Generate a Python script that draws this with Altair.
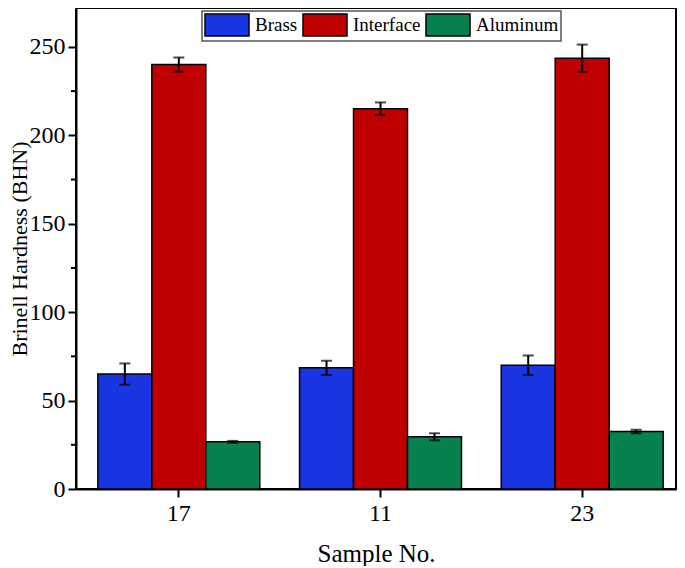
import altair as alt
import pandas as pd

samples = ["17", "11", "23"]
materials = ["Brass", "Interface", "Aluminum"]
brass = [65, 68.5, 70]
brass_err = [6, 4, 5.5]
interface = [240, 215, 243.6]
interface_err = [4, 3.6, 7.7]
aluminum = [26.7, 29.5, 32.5]
aluminum_err = [0.5, 2, 1]
colors = ["#1a36e3", "#c00000", "#07824f"]
major_ticks = [0, 50, 100, 150, 200, 250]
minor_ticks = [25, 75, 125, 175, 225]

rows = []
for mat, vals, errs in [("Brass", brass, brass_err), ("Interface", interface, interface_err),
                        ("Aluminum", aluminum, aluminum_err)]:
    for s, v, e in zip(samples, vals, errs):
        rows.append({"Sample": s, "Material": mat, "Value": v, "Low": v - e, "High": v + e})
df = pd.DataFrame(rows)
minor_df = pd.DataFrame({"m": minor_ticks})

FONT = "Liberation Serif"

x_scale = alt.Scale(paddingInner=0.197, paddingOuter=0.086, align=0.63)
x_enc = alt.X("Sample:N", sort=samples, scale=x_scale,
              axis=alt.Axis(title="Sample No.", labelAngle=0, labelFontSize=24, titleFontSize=25,
                            labelPadding=4, titlePadding=16, tickSize=8))
xo_enc = alt.XOffset("Material:N", sort=materials, scale=alt.Scale(paddingInner=0, paddingOuter=0))
y_scale = alt.Scale(domain=[0, 272], nice=False, zero=True)

bars = alt.Chart(df).mark_bar(stroke="black", strokeWidth=1.5).encode(
    x=x_enc,
    xOffset=xo_enc,
    y=alt.Y("Value:Q", scale=y_scale,
            axis=alt.Axis(title="Brinell Hardness (BHN)", values=major_ticks, labelFontSize=24,
                          titleFontSize=22, labelPadding=3, titlePadding=-2, tickSize=8)),
    color=alt.Color("Material:N", sort=materials,
                    scale=alt.Scale(domain=materials, range=colors),
                    legend=alt.Legend(title=None, orient="none", direction="horizontal",
                                      legendX=126, legendY=3, labelFontSize=19, labelFont=FONT,
                                      symbolType="M-1,-1H3V1H-1Z", symbolSize=484,
                                      symbolStrokeColor="black", symbolStrokeWidth=1.5,
                                      symbolOpacity=1, labelOffset=27, columnPadding=2,
                                      padding=2, strokeColor="#555",
                                      fillColor="white", labelColor="black")),
)

err = alt.Chart(df).mark_rule(color="black", strokeWidth=2).encode(
    x=alt.X("Sample:N", sort=samples), xOffset=alt.XOffset("Material:N", sort=materials),
    y=alt.Y("Low:Q", scale=y_scale), y2="High:Q")

cap_hi = alt.Chart(df).mark_tick(color="black", orient="horizontal", size=11, thickness=2).encode(
    x=alt.X("Sample:N", sort=samples), xOffset=alt.XOffset("Material:N", sort=materials),
    y=alt.Y("High:Q", scale=y_scale))
cap_lo = alt.Chart(df).mark_tick(color="black", orient="horizontal", size=11, thickness=2).encode(
    x=alt.X("Sample:N", sort=samples), xOffset=alt.XOffset("Material:N", sort=materials),
    y=alt.Y("Low:Q", scale=y_scale))

minor = alt.Chart(minor_df).mark_rule(color="black", strokeWidth=2).encode(
    x=alt.value(-5), x2=alt.value(0), y=alt.Y("m:Q", scale=y_scale))

chart = alt.layer(bars, err, cap_hi, cap_lo, minor).properties(
    width=600, height=481,
    autosize=alt.AutoSizeParams(type="none"),
    padding={"left": 68, "top": 0, "right": 1, "bottom": 77},
).configure_view(stroke="black", strokeWidth=2).configure_axis(
    labelFont=FONT, titleFont=FONT, labelColor="black", titleColor="black",
    domainColor="black", domainWidth=2, tickColor="black", tickWidth=2, grid=False,
    titleFontWeight="normal",
).configure_legend(labelFont=FONT, strokeWidth=1.5)

chart.save("out.html", embed_options={"renderer": "svg", "actions": False})
